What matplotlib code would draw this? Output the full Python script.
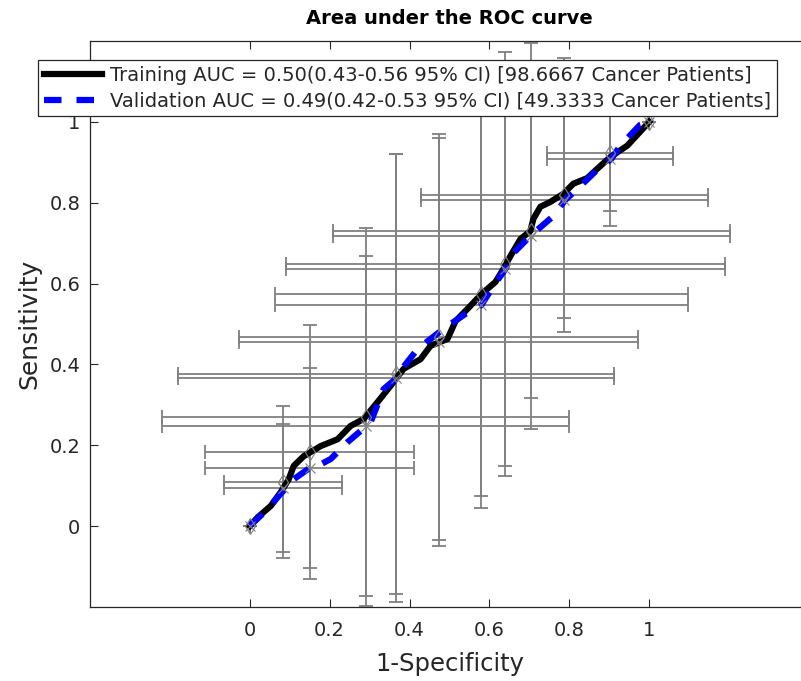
import matplotlib.pyplot as plt
import numpy as np

# ROC curves (1-specificity, sensitivity)
train_fpr = [0, 0.02, 0.0525, 0.0775, 0.0975, 0.11, 0.135, 0.1775, 0.22, 0.2525, 0.285,
             0.32, 0.3525, 0.385, 0.4275, 0.4525, 0.495, 0.515, 0.5525, 0.58, 0.615,
             0.635, 0.6525, 0.6775, 0.7025, 0.71, 0.7275, 0.7525, 0.785, 0.81, 0.845,
             0.87, 0.9025, 0.945, 1]
train_tpr = [0, 0.022, 0.05, 0.084, 0.116, 0.149, 0.173, 0.198, 0.215, 0.248, 0.265,
             0.307, 0.347, 0.389, 0.413, 0.446, 0.463, 0.507, 0.545, 0.574, 0.604,
             0.636, 0.668, 0.71, 0.73, 0.76, 0.79, 0.802, 0.822, 0.847, 0.861,
             0.884, 0.913, 0.941, 1]
val_fpr = [0, 0.01, 0.045, 0.07, 0.11, 0.15, 0.1775, 0.2025, 0.245, 0.2925, 0.3025,
           0.335, 0.3675, 0.385, 0.42, 0.485, 0.54, 0.58, 0.61, 0.64, 0.6575, 0.7025,
           0.76, 0.79, 0.82, 0.8775, 0.905, 0.9275, 0.9775, 1]
val_tpr = [0, 0.01, 0.042, 0.072, 0.116, 0.144, 0.153, 0.166, 0.208, 0.248, 0.257,
           0.339, 0.366, 0.394, 0.438, 0.488, 0.525, 0.547, 0.594, 0.636, 0.673, 0.718,
           0.767, 0.807, 0.834, 0.889, 0.908, 0.941, 0.993, 1]

# threshold points with 95% CI
pt_fpr = [0, 0.0825, 0.15, 0.29, 0.366, 0.4725, 0.58, 0.64, 0.705, 0.7875, 0.9025, 1]
fpr_err = [0, 0.1475, 0.261, 0.509, 0.546, 0.5, 0.5175, 0.549, 0.4975, 0.36, 0.1575, 0]
train_pt_tpr = [0, 0.109, 0.183, 0.27, 0.376, 0.468, 0.574, 0.649, 0.73, 0.819, 0.923, 1]
train_tpr_err = [0, 0.188, 0.314, 0.468, 0.545, 0.5025, 0.5, 0.525, 0.413, 0.339, 0.18, 0]
val_pt_tpr = [0, 0.094, 0.144, 0.248, 0.366, 0.455, 0.547, 0.636, 0.718, 0.807, 0.908, 1]
val_tpr_err = [0, 0.158, 0.2475, 0.42, 0.554, 0.505, 0.5025, 0.4875, 0.478, 0.292, 0.129, 0]

train_label = 'Training AUC = 0.50(0.43-0.56 95% CI) [98.6667 Cancer Patients]'
val_label = 'Validation AUC = 0.49(0.42-0.53 95% CI) [49.3333 Cancer Patients]'

txt = '#262626'
grey = '#808080'

fig = plt.figure(figsize=(8.01, 6.81), dpi=100)
ax = fig.add_axes([90 / 801, 1 - 607 / 681, 719 / 801, 566 / 681])

for yv, ye in [(train_pt_tpr, train_tpr_err), (val_pt_tpr, val_tpr_err)]:
    ax.errorbar(pt_fpr, yv, xerr=fpr_err, yerr=ye, fmt='none', ecolor=grey,
                elinewidth=1.3, capsize=5, capthick=1.3, zorder=1)

l1, = ax.plot(train_fpr, train_tpr, color='black', lw=4.5, zorder=3)
l2, = ax.plot(val_fpr, val_tpr, color='#0000ff', lw=4.5, ls=(0, (2.8, 2.4)), zorder=4)

ax.plot(pt_fpr, train_pt_tpr, 'd', mfc='none', mec=grey, ms=8, mew=0.8, zorder=5)
ax.plot(pt_fpr, val_pt_tpr, 'x', color=grey, ms=7, mew=0.8, zorder=5)

ax.set_xlim(-0.4, 1.4)
ax.set_ylim(-0.2, 1.2)
ax.set_xticks([0, 0.2, 0.4, 0.6, 0.8, 1])
ax.set_yticks([0, 0.2, 0.4, 0.6, 0.8, 1])
ax.set_xticklabels(['0', '0.2', '0.4', '0.6', '0.8', '1'])
ax.set_yticklabels(['0', '0.2', '0.4', '0.6', '0.8', '1'])
ax.tick_params(direction='in', length=6, width=0.8, top=True, right=True,
               labelsize=14, colors=txt)
ax.tick_params(axis='x', pad=10)
ax.tick_params(axis='y', pad=7)
for s in ax.spines.values():
    s.set_color(txt)
    s.set_linewidth(0.9)

ax.set_title('Area under the ROC curve', fontsize=14, fontweight='bold', color='black', pad=12)
ax.set_xlabel('1-Specificity', fontsize=17.5, color=txt, labelpad=9)
ax.set_ylabel('Sensitivity', fontsize=18, color=txt, labelpad=6)

leg = fig.legend([l1, l2], [train_label, val_label], loc='upper left',
                 bbox_to_anchor=(38 / 801, 1 - 60 / 681), fontsize=14,
                 frameon=True, fancybox=False, framealpha=1, edgecolor=txt,
                 handlelength=3.0, handletextpad=0.4, borderpad=0.3,
                 labelspacing=0.35, borderaxespad=0)
leg.get_frame().set_linewidth(0.9)
for t in leg.get_texts():
    t.set_color(txt)

fig.savefig('out.png', dpi=100)
